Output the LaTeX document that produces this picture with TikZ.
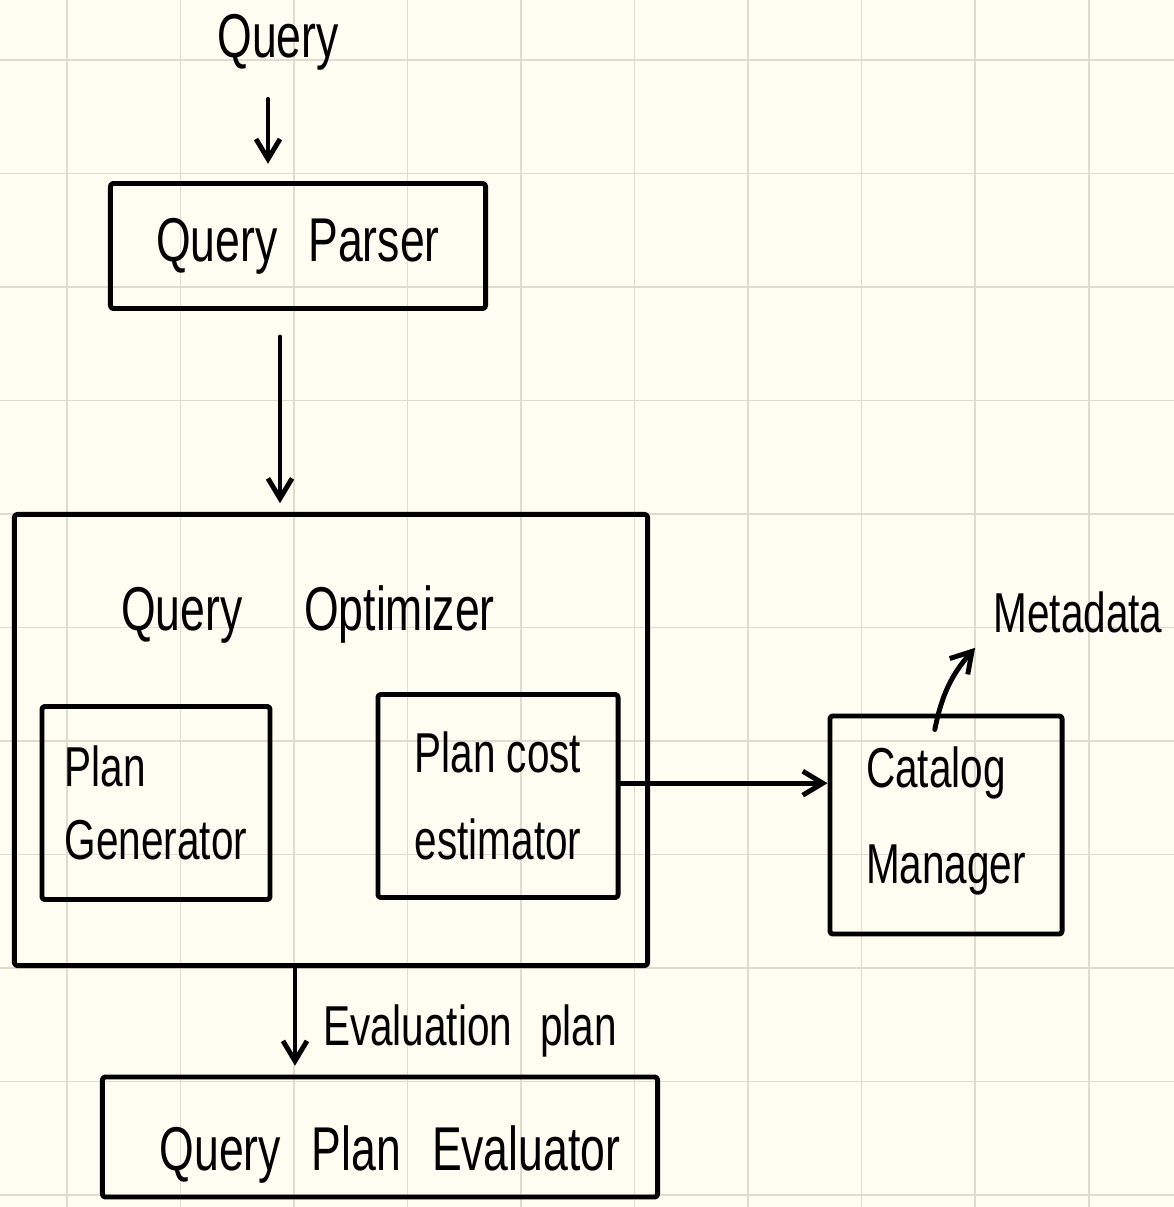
\documentclass[tikz,border=0pt]{standalone}
\usepackage{fontspec}
\setmainfont{Liberation Sans}[FakeStretch=0.72]
\usetikzlibrary{arrows.meta}
\definecolor{paper}{RGB}{254,253,241}
\definecolor{gridgray}{RGB}{222,219,208}

\begin{document}
\begin{tikzpicture}[x=0.025cm,y=-0.025cm,line width=3.5pt,line cap=round,line join=round,
  >={Straight Barb[length=0.5cm,width=0.6cm]},
  box/.style={draw,rounded corners=2pt,inner sep=0pt},
  hand/.style={font=\fontsize{44}{52}\selectfont,inner sep=2pt},
  small hand/.style={font=\fontsize{40}{52}\selectfont,inner sep=2pt},
  gridline/.style={draw=gridgray,line width=1.4pt}]

% paper and grid
\useasboundingbox (0,0) rectangle (1174,1207);
\fill[paper] (0,0) rectangle (1174,1207);
\foreach \i in {0,...,9}
  \draw[gridline] ({67+113.5*\i},0) -- ({67+113.5*\i},1207);
\foreach \j in {0,...,10}
  \draw[gridline] (0,{60+113.5*\j}) -- (1174,{60+113.5*\j});

% input and parser
  \node[hand,anchor=base] (query) at (278,58) {Query};
  \node[box,hand,minimum width=9.375cm,minimum height=3.125cm] (parser) at (298,246) {Query\enspace Parser};

% optimizer with its two parts
  \node[box,minimum width=15.825cm,minimum height=11.275cm] (optimizer) at (331,740) {};
  \node[hand,anchor=base] (optlabel) at (308,630) {Query\quad Optimizer};
  \node[box,small hand,align=left,minimum width=5.7cm,minimum height=4.825cm] (generator) at (156,803) {Plan\\Generator};
  \node[box,small hand,align=center,minimum width=6cm,minimum height=5.075cm] (estimator) at (498,796) {Plan cost\\[10pt]estimator};

% catalog
  \node[box,small hand,align=left,minimum width=5.8cm,minimum height=5.45cm,text depth=0.5cm] (catalog) at (946,825) {Catalog\\[16pt]Manager};
  \node[small hand,anchor=base] (metadata) at (1078,632) {Metadata};

% evaluator
  \node[small hand,anchor=base] (evallabel) at (470,1045) {Evaluation\enspace plan};
  \node[box,minimum width=13.875cm,minimum height=3cm] (evaluator) at (380,1137) {};
  \node[hand,anchor=base] (evaltext) at (390,1170) {Query\enspace Plan\enspace Evaluator};

% ARROWS
  \path[->]
    ([xshift=-0.25cm]query.south) edge [shorten <=0.58cm,shorten >=0.43cm] ([xshift=-0.25cm]query.south |- parser.north)
    ([xshift=-0.45cm]parser.south) edge [shorten <=0.65cm,shorten >=0.22cm] ([xshift=-0.45cm]parser.south |- optimizer.north)
    ([yshift=0.32cm]estimator.east) edge ([yshift=0.32cm]estimator.east -| catalog.west)
    ([xshift=-0.28cm,yshift=-0.4cm]catalog.north) edge [bend left=15] ([xshift=-0.33cm,yshift=-0.25cm]metadata.south west)
    ([xshift=-0.9cm]optimizer.south) edge [shorten >=0.22cm] ([xshift=-0.9cm]optimizer.south |- evaluator.north);

\end{tikzpicture}
\end{document}
